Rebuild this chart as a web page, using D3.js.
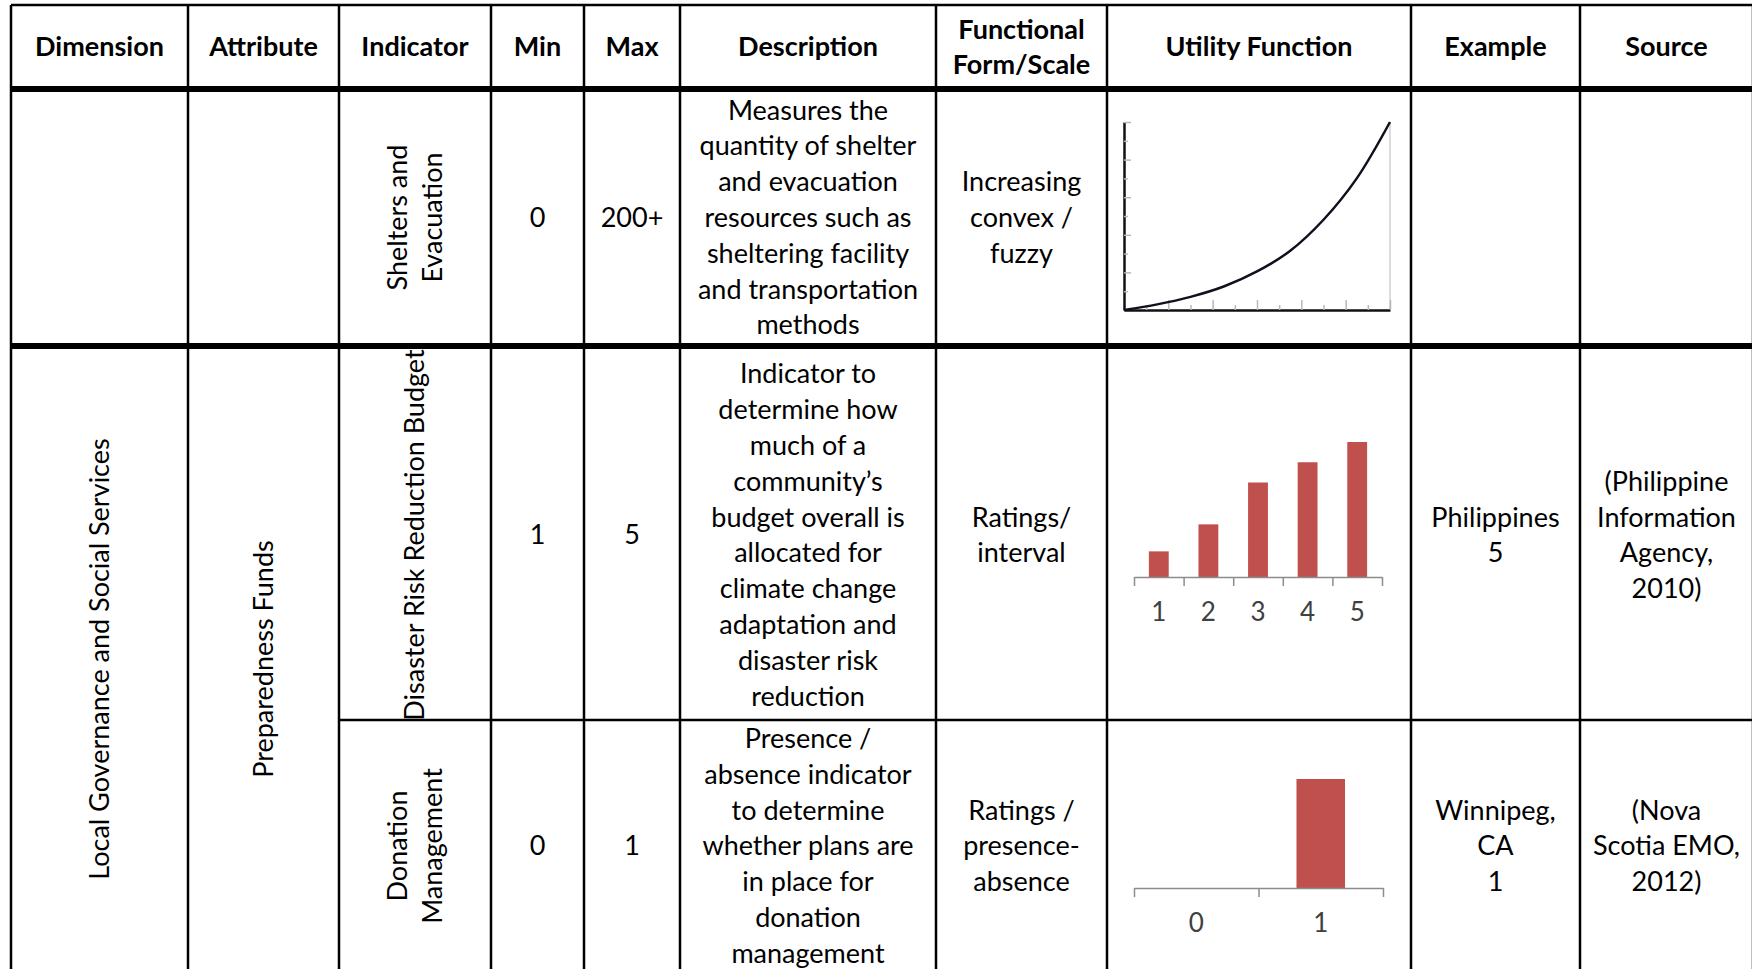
<!DOCTYPE html>
<html>
<head>
  <meta charset="UTF-8">
  <title>Utility function table</title>
  <script src="https://d3js.org/d3.v7.min.js"></script>
  <style>
    body { margin: 0; background: #fff; }
    svg { display: block; font-family: Lato, "Open Sans", sans-serif; }
    .cell { font-size: 27px; fill: #000; text-anchor: middle; }
    .head { font-weight: bold; }
    .bar { fill: #c0504d; }
    .mini text { font-family: Lato, sans-serif; font-size: 26px; fill: #404040; }
  </style>
</head>
<body>
<svg width="1752" height="969"></svg>
<script>
  // table text
  var headers = [["Dimension"], ["Attribute"], ["Indicator"], ["Min"], ["Max"], ["Description"],
                 ["Functional", "Form/Scale"], ["Utility Function"], ["Example"], ["Source"]]
  var dimension = "Local Governance and Social Services"
  var attribute = "Preparedness Funds"
  var indicators = [["Shelters and", "Evacuation"], ["Disaster Risk Reduction Budget"], ["Donation", "Management"]]
  var mins = ["0", "1", "0"]
  var maxs = ["200+", "5", "1"]
  var descriptions = [
    ["Measures the", "quantity of shelter", "and evacuation", "resources such as", "sheltering facility", "and transportation", "methods"],
    ["Indicator to", "determine how", "much of a", "community\u2019s", "budget overall is", "allocated for", "climate change", "adaptation and", "disaster risk", "reduction"],
    ["Presence /", "absence indicator", "to determine", "whether plans are", "in place for", "donation", "management"]
  ]
  var forms = [["Increasing", "convex /", "fuzzy"], ["Ratings/", "interval"], ["Ratings /", "presence-", "absence"]]
  var examples = [[], ["Philippines", "5"], ["Winnipeg,", "CA", "1"]]
  var sources = [[], ["(Philippine", "Information", "Agency,", "2010)"], ["(Nova", "Scotia EMO,", "2012)"]]

  // utility curve (shelters, 0..200+)
  var curveX = [0, 25, 50, 75, 100, 125, 150, 175, 200]
  var curveU = [0, 0.03, 0.07, 0.125, 0.205, 0.315, 0.48, 0.70, 1.0]

  // ratings bars
  var ratingCats = ["1", "2", "3", "4", "5"]
  var ratingVals = [0.19, 0.39, 0.70, 0.85, 1.0]

  // presence / absence bars
  var presenceCats = ["0", "1"]
  var presenceVals = [0, 1]

  // layout
  var colX = [11, 188, 339, 491, 584, 680, 936, 1107, 1411, 1580, 1753]
  var rowY = [5, 89, 346, 720, 972]
  var lineH = 35.8

  var svg = d3.select("svg")
  var colMid = function(i) { return (colX[i] + colX[i + 1]) / 2 }

  function lines(g, arr, x, cy, cls) {
    var top = cy - (arr.length - 1) * lineH / 2
    g.append("text")
      .attr("class", "cell " + (cls || ""))
      .attr("x", x)
      .selectAll("tspan")
      .data(arr)
      .enter().append("tspan")
      .attr("x", x)
      .attr("y", function(d, i) { return top + i * lineH })
      .attr("dy", "0.35em")
      .text(function(d) { return d })
  }

  function vlines(arr, cx, cy) {
    var g = svg.append("g").attr("transform", "translate(" + cx + "," + cy + ") rotate(-90)")
    lines(g, arr, 0, 0)
  }

  var body = svg.append("g")

  // header
  headers.forEach(function(h, i) {
    lines(body, h, colMid(i), (rowY[0] + rowY[1]) / 2, "head")
  })

  var rowMid = [(rowY[1] + rowY[2]) / 2, (rowY[2] + rowY[3]) / 2 + 2, (rowY[3] + rowY[4]) / 2]

  vlines([dimension], colMid(0), (rowY[2] + rowY[4]) / 2)
  vlines([attribute], colMid(1), (rowY[2] + rowY[4]) / 2)

  rowMid.forEach(function(cy, r) {
    vlines(indicators[r], colMid(2), cy)
    lines(body, [mins[r]], colMid(3), cy)
    lines(body, [maxs[r]], colMid(4), cy)
    lines(body, descriptions[r], colMid(5), cy)
    lines(body, forms[r], colMid(6), cy)
    lines(body, examples[r], colMid(8), cy)
    lines(body, sources[r], colMid(9), cy)
  })

  // grid lines
  var grid = svg.append("g").attr("stroke", "#000")
  colX.forEach(function(x) {
    grid.append("line").attr("x1", x).attr("x2", x).attr("y1", rowY[0]).attr("y2", 969).attr("stroke-width", 2.5)
  })
  grid.append("line").attr("x1", colX[0]).attr("x2", 1752).attr("y1", rowY[0]).attr("y2", rowY[0]).attr("stroke-width", 2.5)
  grid.append("line").attr("x1", colX[0]).attr("x2", 1752).attr("y1", rowY[1]).attr("y2", rowY[1]).attr("stroke-width", 6)
  grid.append("line").attr("x1", colX[0]).attr("x2", 1752).attr("y1", rowY[2]).attr("y2", rowY[2]).attr("stroke-width", 6)
  grid.append("line").attr("x1", colX[2]).attr("x2", 1752).attr("y1", rowY[3]).attr("y2", rowY[3]).attr("stroke-width", 2.5)

  // --- utility curve chart
  var cx = d3.scaleLinear().domain([0, 200]).range([1124, 1390])
  var cy = d3.scaleLinear().domain([0, 1]).range([310, 122])
  var c1 = svg.append("g").attr("class", "mini")

  c1.append("line").attr("x1", cx(200)).attr("x2", cx(200)).attr("y1", cy(1)).attr("y2", cy(0))
    .attr("stroke", "#d0d0d0").attr("stroke-width", 1.5)

  var yTicks = d3.range(1, 11).map(function(i) { return i / 10 })
  var yAx = c1.append("g").attr("transform", "translate(" + cx(0) + ",0)")
    .call(d3.axisLeft(cy).tickValues(yTicks).tickSize(-7).tickSizeOuter(0).tickFormat(""))
  var xTicks = d3.range(1, 13).map(function(i) { return i * 200 / 12 })
  var xAx = c1.append("g").attr("transform", "translate(0," + cy(0) + ")")
    .call(d3.axisBottom(cx).tickValues(xTicks).tickSize(-6).tickSizeOuter(0).tickFormat(""))
  xAx.selectAll(".tick line").attr("y2", function(d, i) { return i % 2 ? -10 : -5 })
  yAx.selectAll(".tick line").attr("x2", function(d, i) { return i % 2 ? 7 : 4 })
  c1.selectAll(".tick line").attr("stroke", "#b8b8b8").attr("stroke-width", 1.5)
  c1.selectAll(".domain").attr("stroke", "#111").attr("stroke-width", 2.5)

  c1.append("path")
    .datum(curveX.map(function(x, i) { return [x, curveU[i]] }))
    .attr("fill", "none")
    .attr("stroke", "#10101e")
    .attr("stroke-width", 2.5)
    .attr("d", d3.line()
      .x(function(d) { return cx(d[0]) })
      .y(function(d) { return cy(d[1]) })
      .curve(d3.curveCatmullRom.alpha(0.5)))

  // --- bar charts
  function barChart(cats, vals, x0, x1, base, top, pad) {
    var g = svg.append("g").attr("class", "mini")
    var xb = d3.scaleBand().domain(cats).range([x0, x1]).paddingInner(pad).paddingOuter(pad / 2)
    var yb = d3.scaleLinear().domain([0, 1]).range([base, top])
    var edges = d3.scaleLinear().domain([0, cats.length]).range([x0, x1])

    g.selectAll("rect")
      .data(vals)
      .enter().append("rect")
      .attr("class", "bar")
      .attr("x", function(d, i) { return xb(cats[i]) })
      .attr("width", xb.bandwidth())
      .attr("y", function(d) { return yb(d) })
      .attr("height", function(d) { return base - yb(d) })

    var ax = g.append("g").attr("transform", "translate(0," + base + ")")
      .call(d3.axisBottom(edges).tickValues(d3.range(0, cats.length + 1)).tickSize(9).tickSizeOuter(0).tickFormat(""))
    ax.selectAll("line, path").attr("stroke", "#8c8c8c").attr("stroke-width", 1.5)

    var lab = g.append("g").attr("transform", "translate(0," + base + ")")
      .call(d3.axisBottom(xb).tickSize(0))
    lab.select(".domain").remove()
    lab.selectAll("text").attr("y", 35).attr("dy", "0.35em")
  }

  barChart(ratingCats, ratingVals, 1134, 1382, 577, 442, 0.6)
  barChart(presenceCats, presenceVals, 1134, 1383, 888, 779, 0.61)
</script>
</body>
</html>
